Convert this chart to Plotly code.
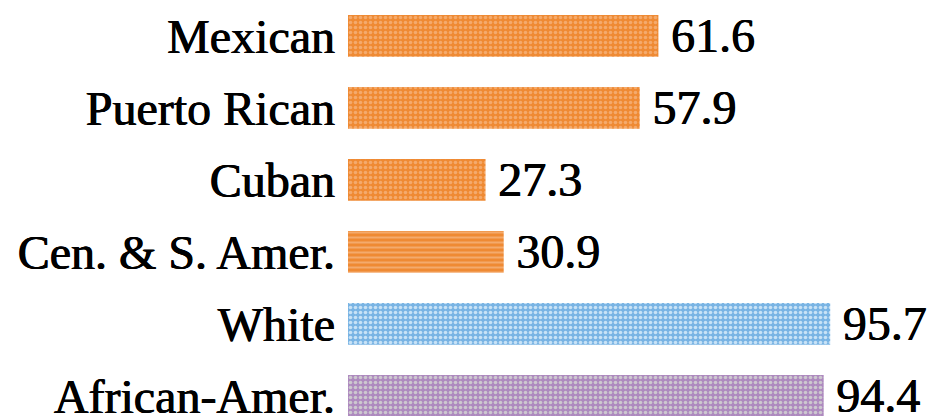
import plotly.graph_objects as go

categories = ["Mexican", "Puerto Rican", "Cuban", "Cen. & S. Amer.", "White", "African-Amer."]
values = [61.6, 57.9, 27.3, 30.9, 95.7, 94.4]
bar_colors = ["#EF8A33", "#EF8A33", "#EF8A33", "#EF8A33", "#79B4E4", "#AE8ABF"]
pattern_colors = ["#F4AA6C", "#F4AA6C", "#F4AA6C", "#F4AA6C", "#C8E2F6", "#CDC8CF"]
pattern_shapes = [".", ".", ".", "-", ".", "."]

heavy = "0.5px 0 0 #000, -0.4px 0 0 #000"

fig = go.Figure()
for cat, val, col, pcol, shp in zip(categories, values, bar_colors, pattern_colors, pattern_shapes):
    fig.add_trace(go.Bar(
        x=[val],
        y=[cat],
        orientation="h",
        width=0.58,
        marker=dict(
            color=col,
            line=dict(width=0),
            pattern=dict(
                shape=shp,
                fillmode="overlay",
                fgcolor=pcol,
                fgopacity=1,
                size=5,
                solidity=0.4,
            ),
        ),
        text=[val],
        texttemplate="\u2009%{x:.1f}",
        textposition="outside",
        constraintext="none",
        textfont=dict(family="Liberation Serif", size=48, color="#000000", shadow=heavy),
        cliponaxis=False,
    ))

fig.update_layout(
    width=930,
    height=416,
    margin=dict(l=348, r=2, t=0, b=0, autoexpand=False),
    paper_bgcolor="white",
    plot_bgcolor="white",
    showlegend=False,
    barmode="overlay",
    xaxis=dict(range=[0, 115.1], visible=False, automargin=False),
    yaxis=dict(
        categoryorder="array",
        categoryarray=categories,
        range=[5.28, -0.5],
        automargin=False,
        showgrid=False,
        zeroline=False,
        showline=False,
        ticks="",
        ticklabelstandoff=12,
        tickfont=dict(family="Liberation Serif", size=48, color="#000000", shadow=heavy),
    ),
)

fig.write_html(
    "out.html",
    config={"displayModeBar": False},
    post_script="document.body.style.margin='0';document.body.style.overflow='hidden';",
)
